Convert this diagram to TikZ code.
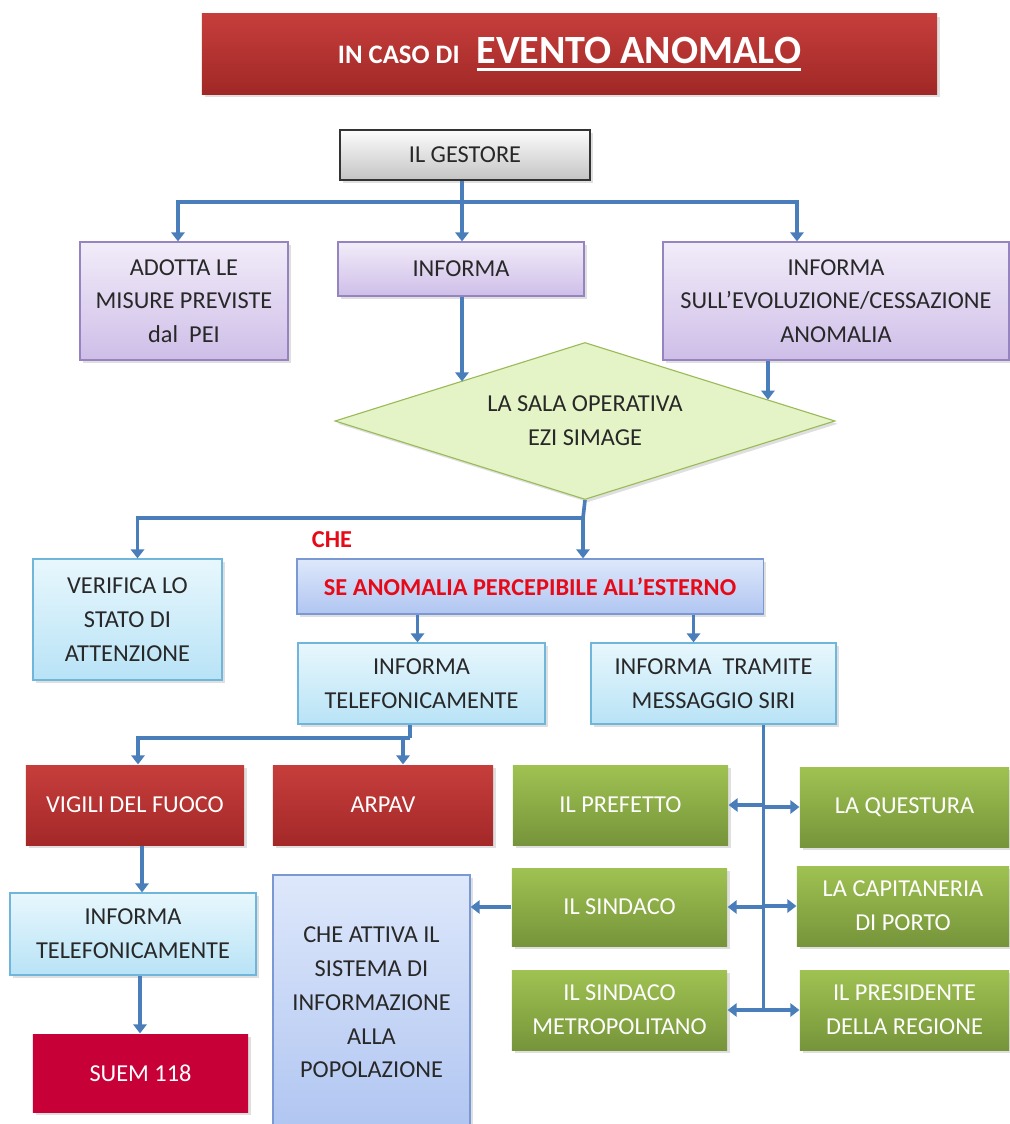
\documentclass[tikz,border=0pt]{standalone}
\usepackage{fontspec}
\setmainfont{Carlito}
\usetikzlibrary{arrows.meta, positioning, calc, shapes.geometric, shadows}
\definecolor{ArrowBlue}{RGB}{74,126,187}
\definecolor{TextDark}{RGB}{40,40,40}
\definecolor{AlertRed}{RGB}{230,10,25}
\definecolor{TitleTop}{RGB}{198,62,60}
\definecolor{TitleBot}{RGB}{160,40,38}
\definecolor{GreyTop}{RGB}{252,252,252}
\definecolor{GreyBot}{RGB}{196,196,196}
\definecolor{LilacTop}{RGB}{242,236,249}
\definecolor{LilacBot}{RGB}{206,190,232}
\definecolor{LilacLine}{RGB}{150,132,192}
\definecolor{DiaFill}{RGB}{228,244,198}
\definecolor{DiaLine}{RGB}{155,187,89}
\definecolor{SkyTop}{RGB}{232,247,253}
\definecolor{SkyBot}{RGB}{184,227,246}
\definecolor{SkyLine}{RGB}{112,182,218}
\definecolor{PeriTop}{RGB}{222,232,251}
\definecolor{PeriBot}{RGB}{176,197,241}
\definecolor{PeriLine}{RGB}{122,152,212}
\definecolor{FireTop}{RGB}{198,62,60}
\definecolor{FireBot}{RGB}{164,40,40}
\definecolor{SuemRed}{RGB}{200,0,56}
\definecolor{LeafTop}{RGB}{160,194,82}
\definecolor{LeafBot}{RGB}{118,148,58}
\newcommand{\thickul}[1]{\setbox0\hbox{#1}\rlap{\raisebox{-5pt}{\rule{\wd0}{2pt}}}\box0}
\tikzset{
  flowbox/.style={draw, line width=0.8pt, align=center, inner sep=2pt,
    font=\fontsize{17.3}{24}\selectfont, text=TextDark,
    drop shadow={opacity=0.25, shadow xshift=2pt, shadow yshift=-2pt}},
  greybox/.style={flowbox, draw=black!80, top color=GreyTop, bottom color=GreyBot},
  lilacbox/.style={flowbox, draw=LilacLine, top color=LilacTop, bottom color=LilacBot},
  skybox/.style={flowbox, draw=SkyLine, top color=SkyTop, bottom color=SkyBot},
  peribox/.style={flowbox, draw=PeriLine, top color=PeriTop, bottom color=PeriBot},
  firebox/.style={flowbox, draw=none, text=white, top color=FireTop, bottom color=FireBot},
  leafbox/.style={flowbox, draw=none, text=white, top color=LeafTop, bottom color=LeafBot},
  conn/.style={ArrowBlue, line width=2.6pt},
  arr/.style={conn, -{Triangle[width=9.5pt,length=6.5pt]}},
}
\begin{document}
\begin{tikzpicture}[x=0.025cm, y=-0.025cm]
        \useasboundingbox (0,0) rectangle (1009,1124);
        % title
        \node[firebox, top color=TitleTop, bottom color=TitleBot,
              minimum width=18.375cm, minimum height=2cm] (title) at (569.5,54)
             {\bfseries\raisebox{-2pt}{\fontsize{19}{22}\selectfont IN CASO DI}\hspace{12pt}%
              \raisebox{-2pt}{\fontsize{28.5}{32}\selectfont\thickul{EVENTO ANOMALO}}};
        % gestore and first row
        \node[greybox, minimum width=6.25cm, minimum height=1.25cm] (gestore) at (465,155) {IL GESTORE};
        \node[lilacbox, minimum width=5.2cm, minimum height=2.95cm] (adotta) at (184,301)
             {ADOTTA LE\\MISURE PREVISTE\\dal\ \ PEI};
        \node[lilacbox, minimum width=6.15cm, minimum height=1.35cm] (informa) at (461,269) {INFORMA};
        \node[lilacbox, minimum width=8.65cm, minimum height=2.95cm] (evol) at (836,301)
             {INFORMA\\SULL’EVOLUZIONE/CESSAZIONE\\ANOMALIA};
        \node[flowbox, diamond, aspect=3.2, inner sep=0pt, draw=DiaLine, fill=DiaFill,
              minimum width=12.5cm, minimum height=3.925cm] (sala) at (585,421)
             {LA SALA OPERATIVA\\EZI SIMAGE};
        % second level
        \node[skybox, minimum width=4.725cm, minimum height=3.025cm] (verifica) at (127.5,619.5)
             {VERIFICA LO\\STATO DI\\ATTENZIONE};
        \node[peribox, text=AlertRed, font=\fontsize{17.3}{24}\selectfont\bfseries,
              minimum width=11.65cm, minimum height=1.375cm] (percepibile) at (530,586.5)
             {SE ANOMALIA PERCEPIBILE ALL’ESTERNO};
        \node[text=AlertRed, font=\fontsize{17.3}{24}\selectfont\bfseries] (che) at (332,540) {CHE};
        \node[skybox, minimum width=6.175cm, minimum height=2.025cm] (telefono) at (421.5,683.5)
             {INFORMA\\TELEFONICAMENTE};
        \node[skybox, minimum width=6.125cm, minimum height=2.025cm] (siri) at (713.5,683.5)
             {INFORMA\ \ TRAMITE\\MESSAGGIO SIRI};
        % emergency services
        \node[firebox, minimum width=5.45cm, minimum height=2cm] (vigili) at (135,805) {VIGILI DEL FUOCO};
        \node[firebox, minimum width=5.5cm, minimum height=2cm] (arpav) at (383,805) {ARPAV};
        \node[skybox, minimum width=6.15cm, minimum height=2.05cm] (telefonobis) at (133,934)
             {INFORMA\\TELEFONICAMENTE};
        \node[firebox, top color=SuemRed, bottom color=SuemRed,
              minimum width=5.375cm, minimum height=1.95cm] (suem) at (140.5,1073) {SUEM 118};
        \node[peribox, minimum width=4.925cm, minimum height=6.375cm] (attiva) at (371.5,1002.5)
             {CHE ATTIVA IL\\SISTEMA DI\\INFORMAZIONE\\ALLA\\POPOLAZIONE};
        % authorities
        \node[leafbox, minimum width=5.375cm, minimum height=2cm] (prefetto) at (620.5,805) {IL PREFETTO};
        \node[leafbox, minimum width=5.225cm, minimum height=2cm] (questura) at (904.5,807) {LA QUESTURA};
        \node[leafbox, minimum width=5.375cm, minimum height=1.95cm] (sindaco) at (619.5,907) {IL SINDACO};
        \node[leafbox, minimum width=5.3cm, minimum height=2cm] (capitaneria) at (903,906)
             {LA CAPITANERIA\\DI PORTO};
        \node[leafbox, minimum width=5.375cm, minimum height=2cm] (metro) at (619.5,1010)
             {IL SINDACO\\METROPOLITANO};
        \node[leafbox, minimum width=5.225cm, minimum height=2cm] (presidente) at (904.5,1010)
             {IL PRESIDENTE\\DELLA REGIONE};
        % connectors
        \coordinate (gsplit) at (462,202);
        \draw[conn] (gestore.south -| gsplit) -- (gsplit);
        \draw[arr] (gsplit) -| ([xshift=-0.15cm]adotta.north);
        \draw[arr] (gsplit) -- (gsplit |- informa.north);
        \draw[arr] (gsplit) -| ([xshift=-0.975cm]evol.north);
        \draw[arr] (informa.south -| gsplit) -- (gsplit |- sala.north west);
        \coordinate (salaNE) at ($(sala.north)!0.73!(sala.east)$);
        \draw[arr] (evol.south -| salaNE) -- (salaNE);
        \coordinate (ssplit) at (583,518);
        \draw[conn] (sala.south) -- (ssplit);
        \draw[arr] (ssplit) -| ([xshift=0.25cm]verifica.north);
        \draw[arr] (ssplit) -- (ssplit |- percepibile.north);
        \draw[arr] ([xshift=-0.1cm]percepibile.south -| telefono.north) -- ([xshift=-0.1cm]telefono.north);
        \draw[arr] ([xshift=-0.5cm]percepibile.south -| siri.north) -- ([xshift=-0.5cm]siri.north);
        \coordinate (tsplit) at (410,738);
        \draw[conn] (telefono.south -| tsplit) -- (tsplit);
        \draw[arr] (tsplit) -| ([xshift=0.075cm]vigili.north);
        \draw[arr] (tsplit) -| ([xshift=0.5cm]arpav.north);
        \draw[arr] ([xshift=0.175cm]vigili.south) -- ([xshift=0.175cm]vigili.south |- telefonobis.north);
        \draw[arr] ([xshift=0.175cm]telefonobis.south) -- ([xshift=0.175cm]telefonobis.south |- suem.north);
        \coordinate (bus) at ([xshift=1.25cm]siri.south);
        \draw[conn] (bus) -- (bus |- metro.east);
        \draw[arr] (bus |- prefetto.east) -- (prefetto.east);
        \draw[arr] (bus |- questura.west) -- (questura.west);
        \draw[arr] (bus |- sindaco.east) -- (sindaco.east);
        \draw[arr] (bus |- capitaneria.west) -- (capitaneria.west);
        \draw[arr] (bus |- metro.east) -- (metro.east);
        \draw[arr] (bus |- presidente.west) -- (presidente.west);
        \draw[arr] (sindaco.west) -- (attiva.east |- sindaco.west);
      \end{tikzpicture}
\end{document}
